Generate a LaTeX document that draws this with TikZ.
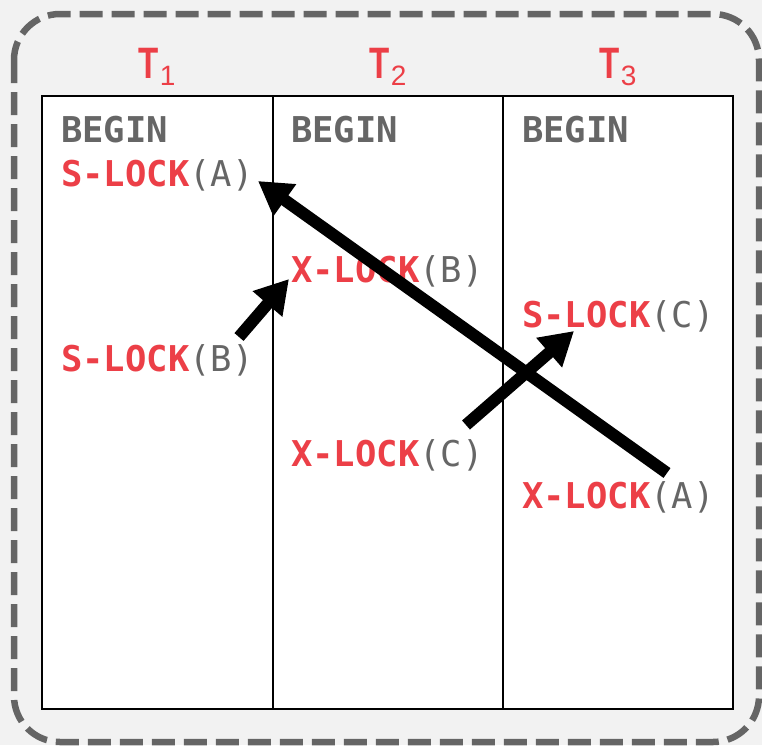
\documentclass[tikz,border=0pt]{standalone}
\usepackage{fontspec}
\usetikzlibrary{arrows.meta}
\newfontfamily\monofont{DejaVu Sans Mono}
\newfontfamily\headfont{Liberation Sans}
\definecolor{lockred}{HTML}{EC3F47}
\definecolor{txtgray}{HTML}{666666}
\definecolor{bggray}{HTML}{F2F2F2}
\definecolor{bordergray}{HTML}{656565}
\tikzset{
  op/.style={anchor=base west, inner sep=0pt, font=\monofont\fontsize{35.5}{35.5}\selectfont, text=txtgray},
  hdr/.style={anchor=base, inner sep=0pt, text=lockred},
  grid/.style={draw=black, line width=2pt},
  bigarrow/.style={draw=black, line width=12pt, -{Triangle[length=33pt,width=37pt]}}
}
\newcommand{\lk}[2]{\textcolor{lockred}{\bfseries #1}(#2)}
\newcommand{\hd}[1]{\scalebox{0.75}[1]{\headfont\bfseries\fontsize{44}{44}\selectfont T}\hspace{1pt}\raisebox{-7pt}{\headfont\fontsize{28}{28}\selectfont #1}}
\begin{document}
\begin{tikzpicture}[x=1pt,y=-1pt]
  \useasboundingbox (0,0) rectangle (762,745);
  \fill[bggray] (0,0) rectangle (762,745);
  \draw[bordergray, line width=6.5pt, dash pattern=on 23pt off 9pt, rounded corners=46pt] (14,14) rectangle (759,742);
  % table
  \filldraw[fill=white, grid] (42,96) rectangle (733,709);
  \draw[grid] (273,96) -- (273,709);
  \draw[grid] (503,96) -- (503,709);
  % headers
  \node[hdr] (t1) at (157,78) {\hd{1}};
  \node[hdr] (t2) at (388,78) {\hd{2}};
  \node[hdr] (t3) at (618,78) {\hd{3}};
  % operations
  \node[op] (b1) at (61,142) {\bfseries BEGIN};
  \node[op] (b2) at (291,142) {\bfseries BEGIN};
  \node[op] (b3) at (522,142) {\bfseries BEGIN};
  \node[op] (slA) at (61,186) {\lk{S-LOCK}{A}};
  \node[op] (xlB) at (291,282) {\lk{X-LOCK}{B}};
  \node[op] (slC) at (522,327) {\lk{S-LOCK}{C}};
  \node[op] (slB) at (61,371) {\lk{S-LOCK}{B}};
  \node[op] (xlC) at (291,466) {\lk{X-LOCK}{C}};
  \node[op] (xlA) at (522,508) {\lk{X-LOCK}{A}};
  % arrow end points
  \coordinate (a1s) at (667,473);
  \coordinate (a1e) at (258,181);
  \coordinate (a2s) at (239,337);
  \coordinate (a2e) at (289,279);
  \coordinate (a3s) at (466,425);
  \coordinate (a3e) at (574,331);
  \draw[bigarrow] (a1s) -- (a1e);
  \draw[bigarrow] (a2s) -- (a2e);
  \draw[bigarrow] (a3s) -- (a3e);
\end{tikzpicture}
\end{document}
